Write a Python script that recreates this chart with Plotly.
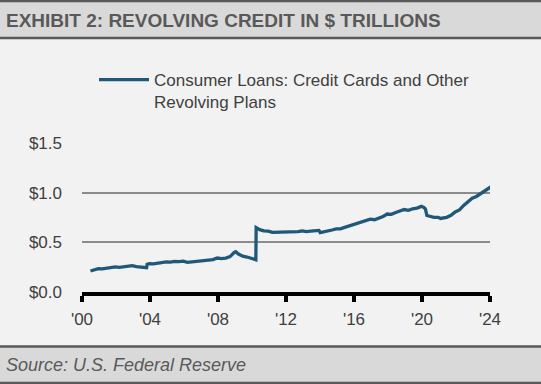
import plotly.graph_objects as go

# ---- data ($ trillions) ----
dates = [
    "2000-07-01", "2000-09-15", "2000-12-15", "2001-03-15", "2001-06-15", "2001-09-15", "2001-12-15",
    "2002-03-15", "2002-06-15", "2002-09-15", "2002-12-15", "2003-03-15", "2003-06-15", "2003-09-15",
    "2003-10-20", "2003-11-01", "2003-12-15", "2004-03-15", "2004-06-15", "2004-09-15", "2004-12-15",
    "2005-03-15", "2005-06-15", "2005-09-15", "2005-12-15", "2006-03-15", "2006-06-15", "2006-09-15",
    "2006-12-15", "2007-03-15", "2007-06-15", "2007-09-15", "2007-12-15", "2008-03-15", "2008-06-15",
    "2008-09-15", "2008-12-15", "2009-01-15", "2009-03-15", "2009-06-15", "2009-09-15", "2009-12-15",
    "2010-02-15", "2010-03-24", "2010-03-31", "2010-04-30", "2010-06-15", "2010-09-15", "2010-12-15",
    "2011-03-15", "2011-06-15", "2011-09-15", "2011-12-15", "2012-03-15", "2012-06-15", "2012-09-15",
    "2012-12-15", "2013-03-15", "2013-06-15", "2013-09-15", "2013-12-10", "2014-01-05", "2014-03-15",
    "2014-06-15", "2014-09-15", "2014-12-15", "2015-03-15", "2015-06-15", "2015-09-15", "2015-12-15",
    "2016-03-15", "2016-06-15", "2016-09-15", "2016-12-15", "2017-03-15", "2017-06-15", "2017-09-15",
    "2017-12-15", "2018-03-15", "2018-06-15", "2018-09-15", "2018-12-15", "2019-03-15", "2019-06-15",
    "2019-09-15", "2019-12-20", "2020-02-15", "2020-03-15", "2020-04-15", "2020-06-15", "2020-09-15",
    "2020-12-15", "2021-02-01", "2021-06-15", "2021-09-15", "2021-12-15", "2022-03-15", "2022-06-15",
    "2022-09-15", "2022-12-15", "2023-03-15", "2023-06-15", "2023-09-15", "2023-12-15", "2024-01-15",
]
revolving = [
    0.211, 0.222, 0.236, 0.232, 0.240, 0.244, 0.252,
    0.247, 0.252, 0.258, 0.266, 0.256, 0.250, 0.246,
    0.245, 0.280, 0.286, 0.284, 0.292, 0.296, 0.304,
    0.300, 0.308, 0.305, 0.311, 0.298, 0.302, 0.306,
    0.314, 0.310, 0.318, 0.326, 0.342, 0.336, 0.342,
    0.356, 0.398, 0.405, 0.382, 0.360, 0.352, 0.338,
    0.322, 0.325, 0.648, 0.640, 0.628, 0.615, 0.612,
    0.600, 0.600, 0.601, 0.608, 0.600, 0.604, 0.608,
    0.616, 0.608, 0.612, 0.615, 0.620, 0.598, 0.603,
    0.615, 0.624, 0.636, 0.635, 0.650, 0.664, 0.680,
    0.690, 0.706, 0.718, 0.733, 0.728, 0.742, 0.760,
    0.785, 0.782, 0.800, 0.812, 0.830, 0.822, 0.838,
    0.845, 0.862, 0.850, 0.835, 0.770, 0.760, 0.752,
    0.752, 0.740, 0.752, 0.772, 0.806, 0.826, 0.872,
    0.905, 0.945, 0.962, 0.990, 1.014, 1.040, 1.057,
]
series_name = "Consumer Loans: Credit Cards and Other<br>Revolving Plans"

x_tick_vals = ["2000-01-01", "2004-01-01", "2008-01-01", "2012-01-01", "2016-01-01", "2020-01-01", "2024-01-01"]
x_tick_text = ["'00", "'04", "'08", "'12", "'16", "'20", "'24"]
y_tick_vals = [0.0, 0.5, 1.0, 1.5]
y_tick_text = ["$0.0", "$0.5", "$1.0", "$1.5"]

title_text = "EXHIBIT 2: REVOLVING CREDIT IN $ TRILLIONS"
source_text = "Source: U.S. Federal Reserve"

# ---- layout constants (pixels) ----
W, H = 541, 384
PL, PR, PT, PB = 82, 490, 143, 292
FONT = "Liberation Sans, Arial, sans-serif"


def px_x(p):
    return (p - PL) / (PR - PL)


def px_y(p):
    return (PB - p) / (PB - PT)


fig = go.Figure()
fig.add_trace(go.Scatter(
    x=dates, y=revolving, mode="lines", name=series_name,
    line=dict(color="#1f5878", width=3.3),
))

shapes = [
    # title band
    dict(type="rect", xref="paper", yref="paper", x0=px_x(-2), x1=px_x(W + 2),
         y0=px_y(38), y1=px_y(1), fillcolor="#d9d9d9", line=dict(width=0), layer="below"),
    dict(type="line", xref="paper", yref="paper", x0=px_x(-2), x1=px_x(W + 2),
         y0=px_y(1), y1=px_y(1), line=dict(color="#595959", width=2.5)),
    dict(type="line", xref="paper", yref="paper", x0=px_x(-2), x1=px_x(W + 2),
         y0=px_y(38), y1=px_y(38), line=dict(color="#595959", width=2.5)),
    # footer band
    dict(type="rect", xref="paper", yref="paper", x0=px_x(-2), x1=px_x(W + 2),
         y0=px_y(383), y1=px_y(347), fillcolor="#d9d9d9", line=dict(width=0), layer="below"),
    dict(type="line", xref="paper", yref="paper", x0=px_x(-2), x1=px_x(W + 2),
         y0=px_y(346.5), y1=px_y(346.5), line=dict(color="#595959", width=2.5)),
    dict(type="line", xref="paper", yref="paper", x0=px_x(-2), x1=px_x(W + 2),
         y0=px_y(383), y1=px_y(383), line=dict(color="#595959", width=2.5)),
]

annotations = [
    dict(text="<b>" + title_text + "</b>", xref="paper", yref="paper", x=px_x(4), y=px_y(20),
         xanchor="left", yanchor="middle", showarrow=False,
         font=dict(family=FONT, size=19, color="#595959")),
    dict(text="<i>" + source_text + "</i>", xref="paper", yref="paper", x=px_x(4), y=px_y(365),
         xanchor="left", yanchor="middle", showarrow=False,
         font=dict(family=FONT, size=18, color="#595959")),
]

fig.update_layout(
    width=W, height=H,
    margin=dict(l=PL, r=W - PR, t=PT, b=H - PB, pad=0),
    paper_bgcolor="#f2f2f2", plot_bgcolor="#f2f2f2",
    showlegend=True,
    legend=dict(x=px_x(94), y=px_y(62), xanchor="left", yanchor="top",
                bgcolor="rgba(0,0,0,0)", valign="top", itemwidth=50,
                font=dict(family=FONT, size=17, color="#404040")),
    shapes=shapes, annotations=annotations,
    xaxis=dict(type="date", range=["2000-01-01", "2024-01-01"],
               tickvals=x_tick_vals, ticktext=x_tick_text,
               showgrid=False, zeroline=False,
               showline=True, linecolor="#000000", linewidth=4,
               ticks="outside", ticklen=6, tickwidth=4, tickcolor="#000000",
               ticklabelstandoff=3,
               tickfont=dict(family=FONT, size=17, color="#404040")),
    yaxis=dict(range=[0, 1.5], tickvals=y_tick_vals, ticktext=y_tick_text,
               showgrid=True, gridcolor="#8c8c8c", gridwidth=1.5, zeroline=False,
               showline=False, ticks="", ticklabelstandoff=19,
               tickfont=dict(family=FONT, size=17, color="#404040")),
)

# the page body has a default 8px margin; remove it so the figure fills the window
fig.write_html("out.html", config={"displayModeBar": False},
               post_script="document.body.style.margin='0px';")
